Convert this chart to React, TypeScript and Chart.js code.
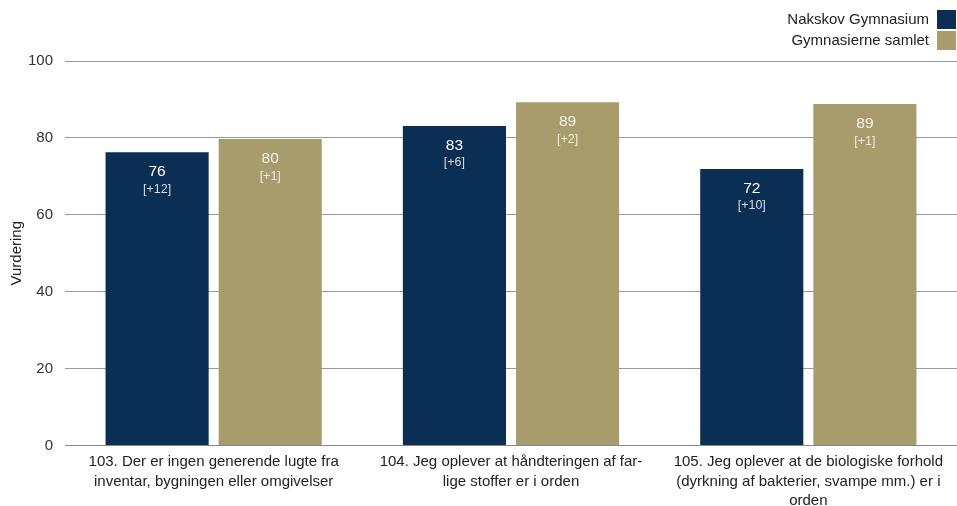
import React, { useEffect, useRef } from "react";
import { Chart, registerables } from "chart.js";

Chart.register(...registerables);

const categories: string[][] = [
  ["103. Der er ingen generende lugte fra", "inventar, bygningen eller omgivelser"],
  ["104. Jeg oplever at håndteringen af far-", "lige stoffer er i orden"],
  ["105. Jeg oplever at de biologiske forhold", "(dyrkning af bakterier, svampe mm.) er i", "orden"],
];
const seriesNames = ["Nakskov Gymnasium", "Gymnasierne samlet"];
const nakskovValues = [76.3, 83.1, 71.9];
const samletValues = [79.7, 89.3, 88.8];
const nakskovLabels = ["76", "83", "72"];
const samletLabels = ["80", "89", "89"];
const nakskovDiffs = ["[+12]", "[+6]", "[+10]"];
const samletDiffs = ["[+1]", "[+2]", "[+1]"];
const yTicks = [0, 20, 40, 60, 80, 100];

const NAVY = "#0b2e55";
const GOLD = "#a99c6c";
const FONT = "'Liberation Sans', 'DejaVu Sans', sans-serif";

export default function App() {
  const ref = useRef<HTMLCanvasElement>(null);
  useEffect(() => {
    document.body.style.margin = "0";
    const labelsPlugin = {
      id: "barLabels",
      afterDatasetsDraw(chart: any) {
        const ctx = chart.ctx;
        const sets = [
          { vals: nakskovLabels, diffs: nakskovDiffs, c1: "#ffffff", c2: "#d8dbe2" },
          { vals: samletLabels, diffs: samletDiffs, c1: "#f4f2ea", c2: "#f1ecd9" },
        ];
        sets.forEach((s, di) => {
          const meta = chart.getDatasetMeta(di);
          meta.data.forEach((bar: any, i: number) => {
            ctx.save();
            ctx.textAlign = "center";
            ctx.textBaseline = "middle";
            ctx.fillStyle = s.c1;
            ctx.font = `15.5px ${FONT}`;
            ctx.fillText(s.vals[i], bar.x, bar.y + 20);
            ctx.fillStyle = s.c2;
            ctx.font = `12.5px ${FONT}`;
            ctx.fillText(s.diffs[i], bar.x, bar.y + 37);
            ctx.restore();
          });
        });
      },
      afterDraw(chart: any) {
        const ctx = chart.ctx;
        const colors = [NAVY, GOLD];
        ctx.save();
        ctx.font = `15px ${FONT}`;
        ctx.textAlign = "right";
        ctx.textBaseline = "middle";
        seriesNames.forEach((name, i) => {
          const y = 10 + i * 21;
          ctx.fillStyle = colors[i];
          ctx.fillRect(937, y, 19, 19);
          ctx.fillStyle = "#222";
          ctx.fillText(name, 929, y + 10);
        });
        ctx.restore();
      },
    };
    const chart = new Chart(ref.current!, {
      type: "bar",
      data: {
        labels: categories,
        datasets: [
          { label: seriesNames[0], data: nakskovValues, backgroundColor: NAVY },
          { label: seriesNames[1], data: samletValues, backgroundColor: GOLD },
        ],
      },
      options: {
        animation: false,
        responsive: false,
        maintainAspectRatio: false,
        layout: { padding: { top: 61, right: 0, left: 0, bottom: -12 } },
        datasets: { bar: { categoryPercentage: 0.761, barPercentage: 0.9115 } },
        plugins: { legend: { display: false }, tooltip: { enabled: false } },
        scales: {
          x: {
            grid: { display: false, drawTicks: false },
            border: { display: true, color: "#888" },
            ticks: { color: "#222", font: { family: FONT, size: 15, lineHeight: 1.3 }, padding: 7, maxRotation: 0, autoSkip: false },
          },
          y: {
            min: 0,
            max: 100,
            afterFit: (axis: any) => {
              axis.width = 65;
            },
            afterBuildTicks: (axis: any) => {
              axis.ticks = yTicks.map((v) => ({ value: v }));
            },
            grid: { color: "#999", drawTicks: false },
            border: { display: false },
            ticks: { color: "#333", font: { family: FONT, size: 15 }, padding: 12 },
            title: { display: true, text: "Vurdering", color: "#222", font: { family: FONT, size: 15 }, padding: { top: 8, bottom: 1 } },
          },
        },
      },
      plugins: [labelsPlugin],
    });
    return () => chart.destroy();
  }, []);
  return (
    <div style={{ width: 957, height: 506 }}>
      <canvas ref={ref} width={957} height={506} style={{ display: "block" }} />
    </div>
  );
}
